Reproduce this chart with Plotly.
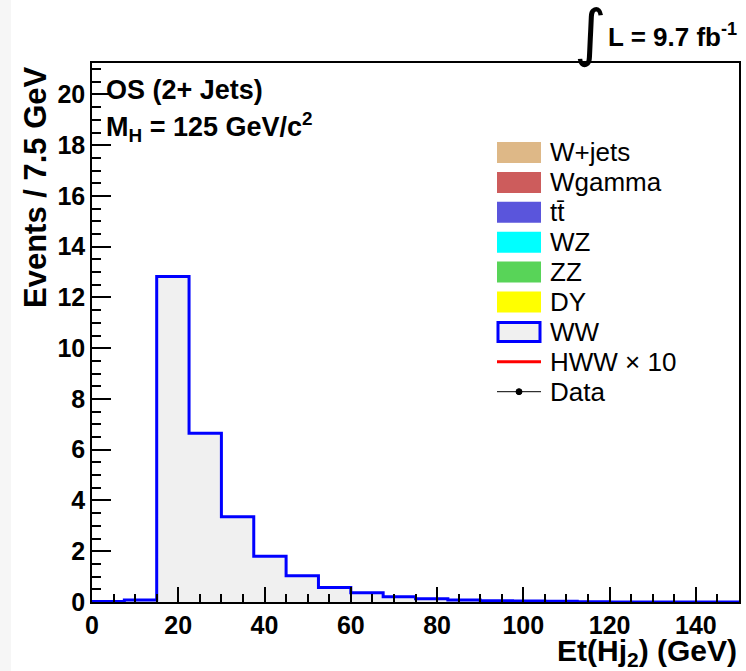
import plotly.graph_objects as go

# ---- data ----
bin_edges = [0, 7.5, 15, 22.5, 30, 37.5, 45, 52.5, 60, 67.5, 75, 82.5, 90,
             97.5, 105, 112.5, 120, 127.5, 135, 142.5, 150]
ww_values = [0.02, 0.08, 12.83, 6.65, 3.36, 1.8, 1.03, 0.57, 0.36, 0.21, 0.13,
             0.08, 0.05, 0.04, 0.03, 0.01, 0.0, 0.0, 0.0, 0.0]
legend_labels = ["W+jets", "Wgamma", "tt\u0304", "WZ", "ZZ", "DY", "WW",
                 "HWW \u00d7 10", "Data"]
legend_colors = ["#deb887", "#cd5c5c", "#5a55dc", "#00ffff", "#58d458",
                 "#ffff00", "#f0f0f0", "#ff0000", "#000000"]
x_ticks = [0, 20, 40, 60, 80, 100, 120, 140]
y_ticks = [0, 2, 4, 6, 8, 10, 12, 14, 16, 18, 20]

W, H = 746, 671
L, R, T, B = 92, 739, 63, 602
ML, MR, MT, MB = L, W - R, T, H - B


def px(xp):
    return (xp - L) / (R - L)


def py(yp):
    return (B - yp) / (B - T)


FONT = "Liberation Sans, Arial, sans-serif"

fig = go.Figure()
fig.add_trace(go.Scatter(
    x=bin_edges,
    y=ww_values + [ww_values[-1]],
    mode="lines",
    line=dict(shape="hv", color="#0000ff", width=3),
    fill="tozeroy",
    fillcolor="#f0f0f0",
    showlegend=False,
    hoverinfo="skip",
))

shapes = []
annotations = []

# manual ROOT-like legend
row_y0 = 152.5
row_dy = 29.9
for i, (lab, col) in enumerate(zip(legend_labels, legend_colors)):
    yc = row_y0 + i * row_dy
    if lab.startswith("HWW"):
        shapes.append(dict(type="line", xref="paper", yref="paper",
                           x0=px(497), x1=px(541), y0=py(yc), y1=py(yc),
                           line=dict(color=col, width=3)))
    elif lab == "Data":
        shapes.append(dict(type="line", xref="paper", yref="paper",
                           x0=px(497), x1=px(541), y0=py(yc), y1=py(yc),
                           line=dict(color="#000000", width=1)))
        shapes.append(dict(type="circle", xref="paper", yref="paper",
                           x0=px(516), x1=px(522), y0=py(yc - 3), y1=py(yc + 3),
                           fillcolor="#000000", line=dict(color="#000000", width=1)))
    elif lab == "WW":
        shapes.append(dict(type="rect", xref="paper", yref="paper",
                           x0=px(498), x1=px(540), y0=py(yc - 9.5), y1=py(yc + 9.5),
                           fillcolor=col, line=dict(color="#0000ff", width=3)))
    else:
        shapes.append(dict(type="rect", xref="paper", yref="paper",
                           x0=px(497), x1=px(541), y0=py(yc - 10.5), y1=py(yc + 10.5),
                           fillcolor=col, line=dict(width=0)))
    annotations.append(dict(text=lab, xref="paper", yref="paper",
                            x=px(548), y=py(yc), xanchor="left", yanchor="middle",
                            showarrow=False,
                            font=dict(family=FONT, size=26, color="#000000")))

# text labels
annotations.append(dict(text="OS (2+ Jets)", xref="paper", yref="paper",
                        x=px(104), y=py(90), xanchor="left", yanchor="middle",
                        showarrow=False,
                        font=dict(family=FONT, size=27, color="#000000", weight="bold")))
annotations.append(dict(text="M<sub>H</sub> = 125 GeV/c<sup>2</sup>", xref="paper", yref="paper",
                        x=px(104), y=py(127), xanchor="left", yanchor="middle",
                        showarrow=False,
                        font=dict(family=FONT, size=27, color="#000000", weight="bold")))
annotations.append(dict(text="\u222b", xref="paper", yref="paper",
                        x=px(590), y=py(33), xanchor="center", yanchor="middle",
                        showarrow=False,
                        font=dict(family="DejaVu Sans", size=62, color="#000000")))
annotations.append(dict(text="L = 9.7 fb<sup>-1</sup>", xref="paper", yref="paper",
                        x=px(739), y=py(36), xanchor="right", yanchor="middle",
                        showarrow=False,
                        font=dict(family=FONT, size=26, color="#000000", weight="bold")))
# axis titles
annotations.append(dict(text="Et(Hj<sub>2</sub>) (GeV)", xref="paper", yref="paper",
                        x=px(739), y=py(652), xanchor="right", yanchor="middle",
                        showarrow=False,
                        font=dict(family=FONT, size=30, color="#000000", weight="bold")))
annotations.append(dict(text="Events / 7.5 GeV", xref="paper", yref="paper",
                        x=px(35), y=py(64), xanchor="center", yanchor="top",
                        textangle=-90, showarrow=False,
                        font=dict(family=FONT, size=31, color="#000000", weight="bold")))

# faint left strip (page edge)
shapes.append(dict(type="rect", xref="paper", yref="paper", layer="below",
                   x0=px(0), x1=px(11), y0=py(H), y1=py(0),
                   fillcolor="#f6f6f6", line=dict(width=0)))

fig.update_layout(
    width=W, height=H,
    margin=dict(l=ML, r=MR, t=MT, b=MB, pad=0, autoexpand=False),
    paper_bgcolor="#ffffff",
    plot_bgcolor="#ffffff",
    showlegend=False,
    shapes=shapes,
    annotations=annotations,
    font=dict(family=FONT, color="#000000"),
)
fig.update_xaxes(
    range=[0, 150], tickvals=x_ticks, ticktext=[str(v) for v in x_ticks],
    ticks="inside", ticklen=15, tickwidth=1.5, tickcolor="#000000",
    minor=dict(dtick=5, tick0=0, ticks="inside", ticklen=8, tickwidth=1.5, tickcolor="#000000"),
    showline=True, linecolor="#000000", linewidth=1.5, mirror=True,
    showgrid=False, zeroline=False, automargin=False,
    tickfont=dict(family=FONT, size=25, color="#000000", weight="bold"),
)
fig.update_yaxes(
    range=[0, 21.24], tickvals=y_ticks, ticktext=[str(v) for v in y_ticks],
    ticks="inside", ticklen=19, tickwidth=1.5, tickcolor="#000000",
    minor=dict(dtick=0.5, tick0=0, ticks="inside", ticklen=9, tickwidth=1.5, tickcolor="#000000"),
    showline=True, linecolor="#000000", linewidth=1.5, mirror=True,
    showgrid=False, zeroline=False, automargin=False,
    tickfont=dict(family=FONT, size=25, color="#000000", weight="bold"),
)

fig.write_html("out.html", config={"displayModeBar": False},
               post_script="document.body.style.margin='0';document.body.style.overflow='hidden';")
